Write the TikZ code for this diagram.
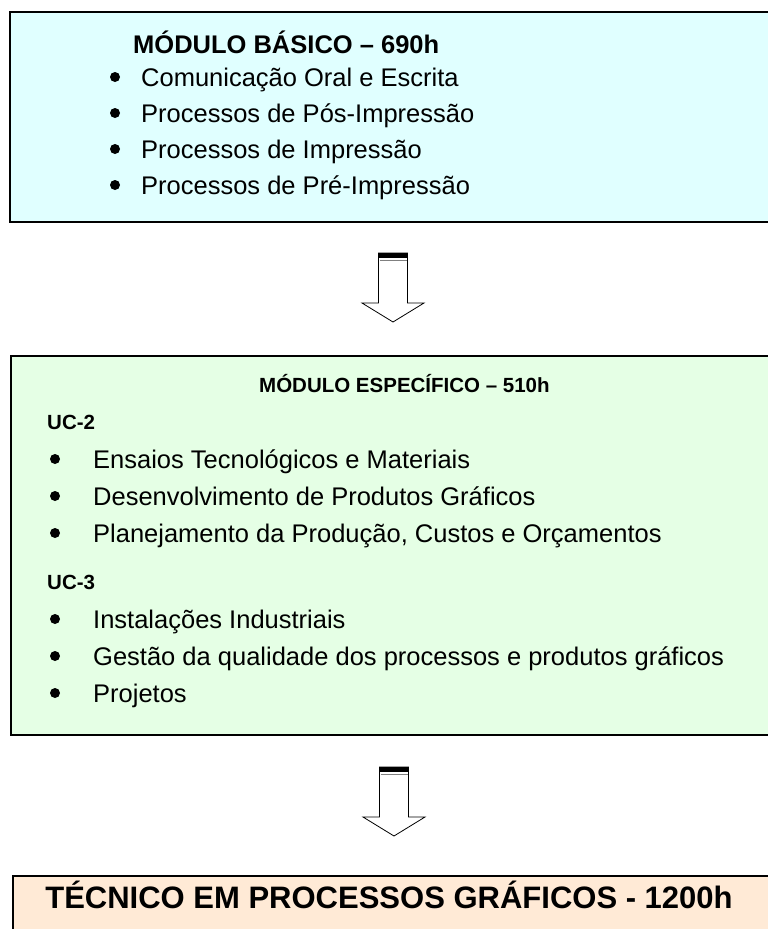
\documentclass[tikz,border=0pt]{standalone}
\usepackage{fontspec}
\setmainfont{Liberation Sans}
\definecolor{basico}{RGB}{224,255,255}
\definecolor{especifico}{RGB}{229,255,229}
\definecolor{tecnico}{RGB}{255,234,214}
\tikzstyle{modulo} = [draw=black, line width=1.5pt, anchor=north west, inner sep=0pt]
\tikzstyle{titulo} = [anchor=base west, inner sep=0pt, font=\bfseries\fontsize{25.5}{30}\selectfont]
\tikzstyle{subtitulo} = [anchor=base west, inner sep=0pt, font=\bfseries\fontsize{20.5}{25}\selectfont]
\tikzstyle{item} = [anchor=base west, inner sep=0pt, font=\fontsize{25.5}{30}\selectfont]
\tikzstyle{marca} = [circle, fill=black, inner sep=0pt, minimum size=10pt]
% seta larga com barra no topo
\newcommand{\setabaixo}[1]{
  \begin{scope}[shift={(#1)}]
    \draw [fill=white, line width=0.8pt] (-14.5,0) -- (-14.5,50) -- (-31,50) -- (0,69) -- (31,50) -- (14.5,50) -- (14.5,0) -- cycle;
    \fill (-14.5,0) rectangle (14.5,5);
    \draw [gray, line width=1pt] (-13.5,7.5) -- (13.5,7.5);
  \end{scope}
}

\begin{document}
\begin{tikzpicture}[x=1pt, y=-1pt]
  \useasboundingbox (0,0) rectangle (768,929);
  \clip (0,0) rectangle (768,929);

  % caixas
  \node (basico) at (9,11) [modulo, fill=basico, minimum width=780pt, minimum height=210pt] {};
  \node (especifico) at (10,355) [modulo, fill=especifico, minimum width=780pt, minimum height=379pt] {};
  \node (tecnico) at (12,875) [modulo, fill=tecnico, minimum width=780pt, minimum height=90pt] {};

  % modulo basico
  \node (tb) at (133,53) [titulo] {MÓDULO BÁSICO – 690h};
  \node (b1) at (115,77) [marca] {};
  \node (b2) at (115,113) [marca] {};
  \node (b3) at (115,149) [marca] {};
  \node (b4) at (115,185) [marca] {};
  \node (i1) at (141,86) [item] {Comunicação Oral e Escrita};
  \node (i2) at (141,122) [item] {Processos de Pós-Impressão};
  \node (i3) at (141,158) [item] {Processos de Impressão};
  \node (i4) at (141,194) [item] {Processos de Pré-Impressão};

  % modulo especifico
  \node (te) at (259,392) [subtitulo] {MÓDULO ESPECÍFICO – 510h};
  \node (uc2) at (47,429) [subtitulo] {UC-2};
  \node (e1) at (55,459) [marca] {};
  \node (e2) at (55,496) [marca] {};
  \node (e3) at (55,533) [marca] {};
  \node (j1) at (93,468) [item] {Ensaios Tecnológicos e Materiais};
  \node (j2) at (93,505) [item] {Desenvolvimento de Produtos Gráficos};
  \node (j3) at (93,542) [item] {Planejamento da Produção, Custos e Orçamentos};
  \node (uc3) at (47,589) [subtitulo] {UC-3};
  \node (e4) at (55,619) [marca] {};
  \node (e5) at (55,656) [marca] {};
  \node (e6) at (55,693) [marca] {};
  \node (j4) at (93,628) [item] {Instalações Industriais};
  \node (j5) at (93,665) [item] {Gestão da qualidade dos processos e produtos gráficos};
  \node (j6) at (93,702) [item] {Projetos};

  % tecnico
  \node (tt) at (389,908) [anchor=base, inner sep=0pt, font=\bfseries\fontsize{31}{36}\selectfont] {TÉCNICO EM PROCESSOS GRÁFICOS - 1200h};

  % setas
  \coordinate (s1) at (393,253);
  \coordinate (s2) at (394,767);
  \setabaixo{s1}
  \setabaixo{s2}
\end{tikzpicture}
\end{document}
